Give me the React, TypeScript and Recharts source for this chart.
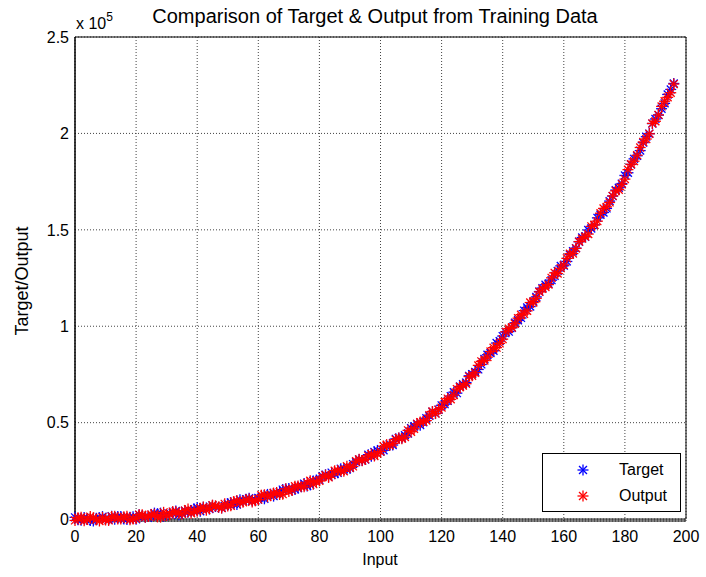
import { ScatterChart, Scatter, XAxis, YAxis, CartesianGrid, ReferenceArea } from 'recharts'

const inputs = [
  0, 1, 2, 3, 4, 5, 6, 7, 8, 9, 10, 11, 12, 13, 14, 15, 16, 17, 18, 19,
  20, 21, 22, 23, 24, 25, 26, 27, 28, 29, 30, 31, 32, 33, 34, 35, 36, 37, 38, 39,
  40, 41, 42, 43, 44, 45, 46, 47, 48, 49, 50, 51, 52, 53, 54, 55, 56, 57, 58, 59,
  60, 61, 62, 63, 64, 65, 66, 67, 68, 69, 70, 71, 72, 73, 74, 75, 76, 77, 78, 79,
  80, 81, 82, 83, 84, 85, 86, 87, 88, 89, 90, 91, 92, 93, 94, 95, 96, 97, 98, 99,
  100, 101, 102, 103, 104, 105, 106, 107, 108, 109, 110, 111, 112, 113, 114, 115, 116, 117, 118, 119,
  120, 121, 122, 123, 124, 125, 126, 127, 128, 129, 130, 131, 132, 133, 134, 135, 136, 137, 138, 139,
  140, 141, 142, 143, 144, 145, 146, 147, 148, 149, 150, 151, 152, 153, 154, 155, 156, 157, 158, 159,
  160, 161, 162, 163, 164, 165, 166, 167, 168, 169, 170, 171, 172, 173, 174, 175, 176, 177, 178, 179,
  180, 181, 182, 183, 184, 185, 186, 187, 188, 189, 190, 191, 192, 193, 194, 195, 196,
]

const target = [
  900, -400, -600, 800, 300, -800, -1000, 400, 700, 1300, 0, -300, 1500, -100, 1300, 1300, 0, -200, 1000, 1200,
  -100, 2200, 1800, 900, 1400, 1300, 3100, 2800, 3100, 1400, 1900, 3000, 3100, 4200, 2200, 3000, 4300, 3600, 4000, 5200,
  5900, 4000, 6100, 5800, 5200, 7100, 6500, 6100, 5800, 6800, 8000, 8600, 7900, 7500, 10000, 9400, 10300, 10800, 9500, 9900,
  11000, 10800, 10500, 12800, 12900, 11900, 13000, 13900, 15300, 15600, 15900, 15000, 15400, 16100, 17300, 18400, 17100, 17800, 19800, 20200,
  20300, 22200, 23000, 22000, 24100, 23500, 24000, 26100, 26200, 25800, 26400, 28500, 29500, 30900, 30400, 30900, 33400, 32600, 34800, 35600,
  35100, 35700, 37800, 38800, 38400, 41600, 42000, 42100, 43500, 44400, 47200, 48000, 49300, 48700, 50200, 52300, 53500, 55700, 54800, 56700,
  59000, 59600, 61300, 63800, 65800, 65300, 68800, 69900, 70800, 74300, 75200, 76300, 77600, 80200, 83000, 85200, 86100, 87300, 91300, 92300,
  94900, 97000, 97200, 99200, 101800, 103100, 104300, 108100, 109700, 110200, 112800, 115200, 118000, 119800, 121500, 122000, 123900, 126100, 128700, 131300,
  131400, 133600, 137100, 138900, 140500, 143800, 146000, 146400, 149900, 150700, 152600, 156200, 157800, 159000, 161100, 164900, 167500, 170600, 171800, 174000,
  178200, 179600, 183900, 186800, 188400, 191100, 195200, 198300, 199900, 205100, 207500, 209500, 212800, 215600, 220200, 222800, 225900,
]

const output = [
  -700, 700, 1000, -900, -200, 1300, 700, -300, -1000, 900, -500, -700, 1300, 1500, 100, 100, 1200, 1400, -400, 0,
  300, 2300, 2300, 1000, 1300, 2400, 2500, 1100, 1000, 3500, 1800, 2300, 3900, 3800, 3000, 2600, 4400, 5200, 3000, 4000,
  4000, 5600, 6200, 4600, 5500, 7200, 6900, 6200, 5700, 7900, 6800, 6900, 9100, 9600, 8500, 8700, 10000, 10400, 8900, 9500,
  10100, 12400, 12600, 11600, 12100, 13500, 13800, 12700, 12900, 15700, 14300, 15100, 17000, 17200, 16800, 16700, 18800, 19900, 18100, 19500,
  19800, 21800, 22800, 21600, 22900, 25100, 25200, 24900, 24800, 27400, 26800, 27300, 30000, 31000, 30300, 31000, 32800, 33700, 32700, 33900,
  35000, 37800, 38600, 38100, 39200, 41200, 42100, 41700, 42500, 46000, 45300, 46800, 49400, 50300, 50500, 51100, 53900, 55800, 54700, 56800,
  57800, 60700, 62500, 62100, 64300, 67400, 68500, 69200, 70200, 73900, 74300, 75900, 79700, 81800, 82200, 84000, 86900, 88900, 88900, 91100,
  93300, 97100, 98800, 99300, 101300, 104200, 106000, 106400, 108000, 112300, 112300, 114500, 117800, 119400, 120300, 121600, 125100, 127700, 127300, 130100,
  131800, 135200, 137600, 137700, 140400, 143900, 145400, 146500, 147800, 151800, 152500, 154500, 158600, 161100, 161900, 164200, 167600, 170200, 170800, 173600,
  176300, 181200, 184000, 185600, 188700, 192700, 195600, 197100, 199800, 205200, 206300, 209600, 214000, 216700, 218700, 221100, 225600,
]

const xTicks = [0, 20, 40, 60, 80, 100, 120, 140, 160, 180, 200]
const yTicks = [0, 50000, 100000, 150000, 200000, 250000]

const targetData = inputs.map((x, i) => ({ x, y: target[i] }))
const outputData = inputs.map((x, i) => ({ x, y: output[i] }))

const font = '"Liberation Sans", Arial, sans-serif'

function Star({ cx, cy, color }: { cx?: number; cy?: number; color: string }) {
  if (cx == null || cy == null) return null
  const r = 5.5
  const d = r * 0.72
  return (
    <g stroke={color} strokeWidth={1.3}>
      <line x1={cx - r} y1={cy} x2={cx + r} y2={cy} />
      <line x1={cx} y1={cy - r} x2={cx} y2={cy + r} />
      <line x1={cx - d} y1={cy - d} x2={cx + d} y2={cy + d} />
      <line x1={cx - d} y1={cy + d} x2={cx + d} y2={cy - d} />
    </g>
  )
}

function LegendBox() {
  const row = (label: string, color: string) => (
    <div style={{ display: 'flex', alignItems: 'center', height: 26 }}>
      <svg width={76} height={26}>
        <Star cx={40} cy={13} color={color} />
      </svg>
      <span style={{ fontSize: 16, color: '#000' }}>{label}</span>
    </div>
  )
  return (
    <div
      style={{
        position: 'absolute',
        left: 542,
        top: 453,
        width: 139,
        height: 59,
        border: '1px solid #000',
        background: '#fff',
        fontFamily: font,
        paddingTop: 3,
        boxSizing: 'border-box',
      }}
    >
      {row('Target', '#0000ff')}
      {row('Output', '#ff0000')}
    </div>
  )
}

export default function App() {
  return (
    <div style={{ position: 'absolute', left: 0, top: 0, width: 706, height: 577, background: '#fff', fontFamily: font }}>
      <div style={{ position: 'absolute', left: 0, width: 750, top: 5, textAlign: 'center', fontSize: 20 }}>
        Comparison of Target &amp; Output from Training Data
      </div>
      <div style={{ position: 'absolute', left: 76, top: 12, fontSize: 16 }}>
        x 10<sup style={{ fontSize: 12, position: 'relative', top: -2 }}>5</sup>
      </div>
      <ScatterChart width={706} height={577} margin={{ top: 37, right: 20, bottom: 26, left: 0 }}>
        <CartesianGrid stroke="#444" strokeDasharray="1 2" />
        <XAxis
          type="number"
          dataKey="x"
          domain={[0, 200]}
          ticks={xTicks}
          height={30}
          tickLine={false}
          tickSize={0}
          tickMargin={10}
          stroke="#000"
          tick={{ fill: '#000', fontSize: 16, fontFamily: font }}
        />
        <YAxis
          type="number"
          dataKey="y"
          domain={[0, 250000]}
          ticks={yTicks}
          width={75}
          tickLine={false}
          tickSize={0}
          tickMargin={6}
          stroke="#000"
          tickFormatter={(v: number) => String(v / 100000)}
          tick={{ fill: '#000', fontSize: 16, fontFamily: font }}
        />
        <ReferenceArea x1={0} x2={200} y1={0} y2={250000} fill="none" stroke="#000" strokeOpacity={1} />
        <Scatter name="Target" data={targetData} isAnimationActive={false} shape={(p: any) => <Star cx={p.cx} cy={p.cy} color="#0000ff" />} />
        <Scatter name="Output" data={outputData} isAnimationActive={false} shape={(p: any) => <Star cx={p.cx} cy={p.cy} color="#ff0000" />} />
      </ScatterChart>
      <LegendBox />
      <div style={{ position: 'absolute', left: 0, width: 760, top: 551, textAlign: 'center', fontSize: 16 }}>Input</div>
      <div
        style={{
          position: 'absolute',
          left: 22,
          top: 281,
          fontSize: 18,
          transform: 'translate(-50%, -50%) rotate(-90deg)',
          whiteSpace: 'nowrap',
        }}
      >
        Target/Output
      </div>
    </div>
  )
}
